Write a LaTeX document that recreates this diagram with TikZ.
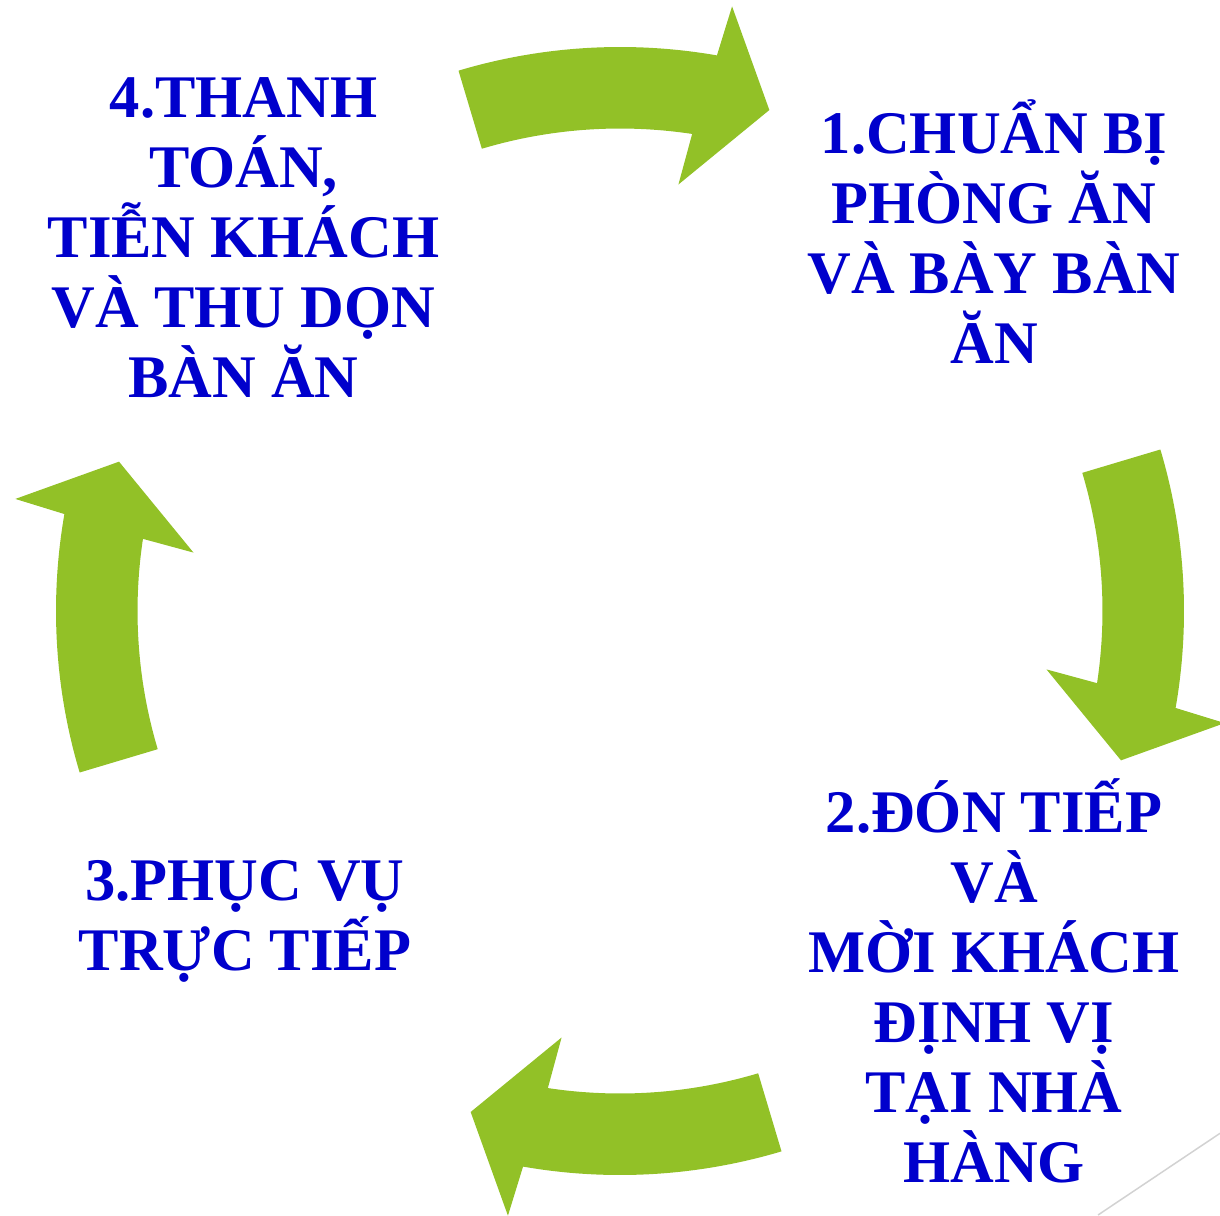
\documentclass[tikz,border=0pt]{standalone}
\usepackage{fontspec}
\setmainfont{Liberation Serif}
\definecolor{arrowgreen}{RGB}{146,193,39}
\definecolor{textblue}{RGB}{0,0,204}
\definecolor{decogray}{RGB}{210,210,210}
\lineskiplimit=-100pt
\tikzset{
  stepnote/.style={text=textblue, align=center, inner sep=0pt, outer sep=0pt, anchor=north,
    font=\bfseries\fontsize{60.5}{70}\selectfont},
  decoline/.style={draw=decogray, line width=1.5pt},
  cyclearrow/.pic={
    \fill[arrowgreen] (106.64:564pt) arc[start angle=106.64, end angle=80.1, radius=564pt]
      -- (79.5:615pt) -- (73.4:522.8pt) -- (82.2:430.5pt) -- (81.4:482.5pt)
      arc[start angle=81.4, end angle=106.64, radius=482.5pt] -- cycle;
  }
}
\newcommand{\firststrut}{\rule{0pt}{70pt}}
\begin{document}
\begin{tikzpicture}[x=1pt,y=1pt]
\useasboundingbox (0,0) rectangle (1220,-1215);
\coordinate (C) at (620,-611);
% cycle arrows
\pic (atop) at (C) {cyclearrow};
\pic[rotate=-90] (aright) at (C) {cyclearrow};
\pic[rotate=-180] (abottom) at (C) {cyclearrow};
\pic[rotate=-270] (aleft) at (C) {cyclearrow};
% step texts
\node[stepnote] (s1) at (994,-83) {\firststrut 1.CHUẨN BỊ\\PHÒNG ĂN\\VÀ BÀY BÀN\\ĂN};
\node[stepnote] (s2) at (994,-762) {\firststrut 2.ĐÓN TIẾP\\VÀ\\MỜI KHÁCH\\ĐỊNH VỊ\\TẠI NHÀ\\HÀNG};
\node[stepnote] (s3) at (245,-830) {\firststrut 3.PHỤC VỤ\\TRỰC TIẾP};
\node[stepnote] (s4) at (243.5,-47) {\firststrut 4.THANH\\TOÁN,\\TIỄN KHÁCH\\VÀ THU DỌN\\BÀN ĂN};
% slide decoration line
\coordinate (d1) at (1098,-1215);
\coordinate (d2) at (1220,-1133.3);
\draw[decoline] (d1) -- (d2);
\end{tikzpicture}
\end{document}
